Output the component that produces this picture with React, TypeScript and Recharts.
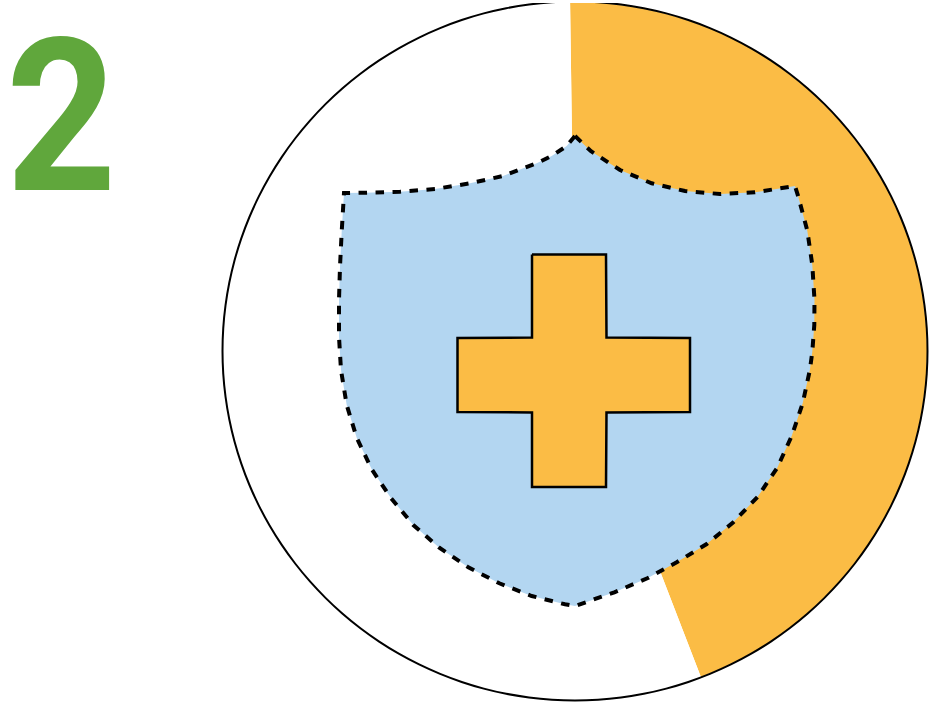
import React from 'react';
import { PieChart, Pie, Cell, ScatterChart, Scatter, XAxis, YAxis } from 'recharts';

const W = 931;
const H = 707;

// share of the disc
const sliceNames = ['filled', 'empty'];
const sliceValues = [44.4, 55.6];
const sliceColors = ['#FBBC45', '#FFFFFF'];
const ringValues = [100];

const badge = '2';

// outlines, pixel space of the chart
const shieldOutline = [
  { x: 575, y: 136 }, { x: 590.7, y: 151 }, { x: 620, y: 170 }, { x: 651.7, y: 183.3 }, { x: 685, y: 191 },
  { x: 720, y: 194 }, { x: 755, y: 192.3 }, { x: 795, y: 186 }, { x: 798.3, y: 196.7 }, { x: 807.3, y: 230.7 },
  { x: 812.3, y: 265 }, { x: 814.5, y: 300 }, { x: 814.3, y: 325 }, { x: 812.3, y: 351.7 }, { x: 810, y: 369.3 },
  { x: 802.7, y: 403.3 }, { x: 791.7, y: 436 }, { x: 777.3, y: 467.7 }, { x: 757.7, y: 496.7 }, { x: 733.3, y: 522.3 },
  { x: 706.7, y: 544 }, { x: 676.7, y: 562.3 }, { x: 647.3, y: 578.3 }, { x: 614.3, y: 592.3 }, { x: 575, y: 606 },
  { x: 565, y: 604.3 }, { x: 531.7, y: 596 }, { x: 499.3, y: 583.3 }, { x: 468.3, y: 567.3 }, { x: 439.3, y: 547.7 },
  { x: 413.3, y: 525 }, { x: 390.7, y: 497.7 }, { x: 371.7, y: 469.3 }, { x: 356.7, y: 437.7 }, { x: 346.7, y: 405 },
  { x: 341, y: 370 }, { x: 339, y: 336.7 }, { x: 339, y: 300 }, { x: 340, y: 266.7 }, { x: 341.7, y: 231.7 },
  { x: 344, y: 193 }, { x: 365, y: 192.7 }, { x: 400, y: 191.7 }, { x: 435, y: 189 }, { x: 470, y: 183.3 },
  { x: 503, y: 176 }, { x: 536.7, y: 163.3 }, { x: 551.7, y: 156 }, { x: 566.7, y: 146 }, { x: 575, y: 136 },
];

const crossOutline = [
  { x: 532, y: 254.5 }, { x: 606, y: 254.5 }, { x: 606.5, y: 337.5 }, { x: 690, y: 338 }, { x: 690, y: 412 },
  { x: 606.5, y: 412.5 }, { x: 606, y: 487 }, { x: 532, y: 487 }, { x: 532, y: 412.5 }, { x: 457.5, y: 412 },
  { x: 457.5, y: 338 }, { x: 532, y: 337.5 }, { x: 532, y: 254.5 },
];

const pieData = sliceNames.map((name, i) => ({ name, value: sliceValues[i] }));
const ringData = ringValues.map(value => ({ name: 'ring', value }));

const layer: React.CSSProperties = { position: 'absolute', left: 0, top: 0 };
const noDot = () => <g />;

export default function App() {
  return (
    <div style={{ position: 'absolute', left: 0, top: 0, width: W, height: H, background: '#fff', overflow: 'hidden' }}>
      {/* the disc in the picture is a touch wider than tall */}
      <div style={{ ...layer, transform: 'scaleY(0.9915)', transformOrigin: '575px 351px' }}>
        <PieChart width={W} height={H} margin={{ top: 0, right: 0, bottom: 0, left: 0 }}>
          <Pie
            data={pieData}
            dataKey="value"
            cx={575}
            cy={351}
            innerRadius={0}
            outerRadius={352}
            startAngle={90.8}
            endAngle={-269.2}
            stroke="none"
            isAnimationActive={false}
          >
            {pieData.map((d, i) => <Cell key={d.name} fill={sliceColors[i]} stroke="none" />)}
          </Pie>
          <Pie
            data={ringData}
            dataKey="value"
            cx={575}
            cy={351}
            innerRadius={351.5}
            outerRadius={353.5}
            startAngle={90}
            endAngle={-270}
            fill="#000"
            stroke="none"
            isAnimationActive={false}
          />
        </PieChart>
      </div>
      <div style={layer}>
        <ScatterChart width={W} height={H} margin={{ top: 0, right: 0, bottom: 0, left: 0 }}>
          <XAxis type="number" dataKey="x" domain={[0, W]} hide />
          <YAxis type="number" dataKey="y" domain={[0, H]} reversed hide />
          <Scatter
            data={shieldOutline}
            shape={noDot}
            lineJointType="linear"
            line={{ fill: '#B3D6F1', stroke: '#000', strokeWidth: 4, strokeDasharray: '8.5 8.5' }}
            isAnimationActive={false}
          />
          <Scatter
            data={crossOutline}
            shape={noDot}
            lineJointType="linear"
            line={{ fill: '#FBBC45', stroke: '#000', strokeWidth: 2.5 }}
            isAnimationActive={false}
          />
        </ScatterChart>
      </div>
      <svg width={140} height={210} style={layer}>
        <text
          transform="translate(6,190) scale(0.9,1)"
          fill="#60A73C"
          fontFamily="Roboto, sans-serif"
          fontWeight={700}
          fontSize={214}
        >
          {badge}
        </text>
      </svg>
    </div>
  );
}
